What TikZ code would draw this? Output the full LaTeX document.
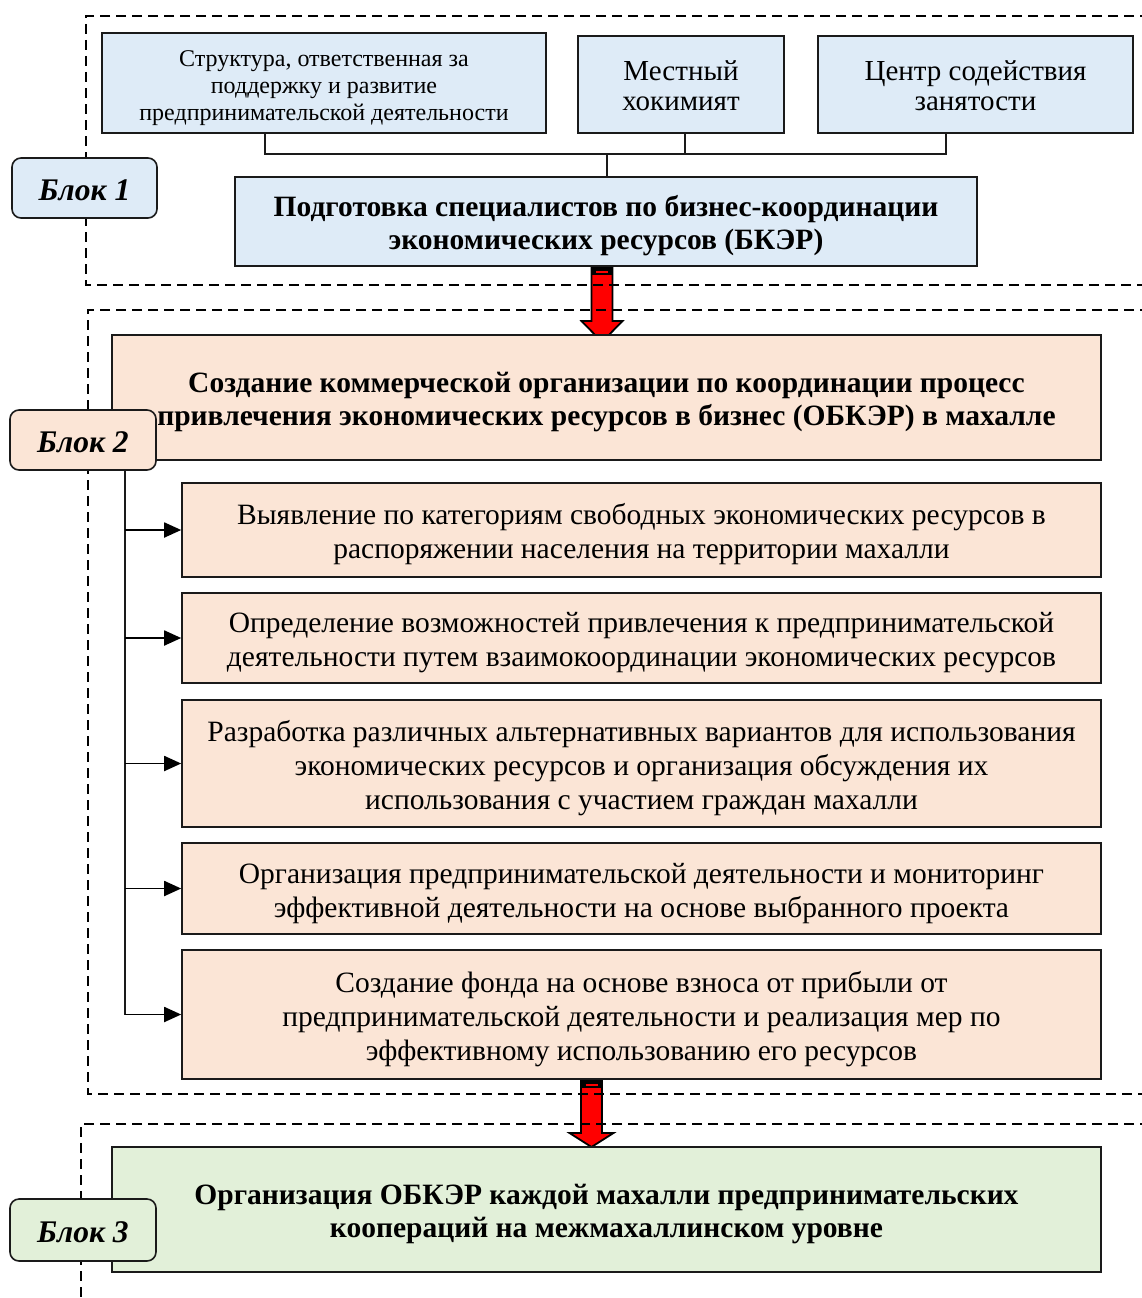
\documentclass[tikz,border=0pt]{standalone}
\usepackage{fontspec}
\setmainfont{Liberation Serif}
\usetikzlibrary{arrows.meta,calc}
\definecolor{bluef}{HTML}{DEEBF7}
\definecolor{peachf}{HTML}{FBE5D6}
\definecolor{greenf}{HTML}{E2F0D9}
\definecolor{edgec}{HTML}{1A1A1A}
\newcommand\boxtext[1]{\raisebox{0pt}[\dimexpr\height+10pt\relax]{\begin{tabular}{@{}c@{}}#1\end{tabular}}}
\newcommand\lbltext[1]{\raisebox{0pt}[\dimexpr\height+4pt\relax]{#1}}
\begin{document}
\begin{tikzpicture}[x=1pt,y=-1pt,
  box/.style={draw=edgec, line width=1.6pt, inner sep=0pt, anchor=center},
  bluebox/.style={box, fill=bluef},
  peachbox/.style={box, fill=peachf},
  greenbox/.style={box, fill=greenf},
  lbl/.style={box, rounded corners=9pt, font=\fontsize{31.5}{34}\selectfont\bfseries\itshape},
  smalltxt/.style={font=\fontsize{24}{27}\selectfont},
  midtxt/.style={font=\fontsize{29}{29.5}\selectfont},
  rowtxt/.style={font=\fontsize{29.5}{34}\selectfont},
  boldtxt/.style={font=\fontsize{29.5}{33.5}\selectfont\bfseries},
  dashline/.style={draw=black, line width=2pt, dash pattern=on 10pt off 6pt},
  conn/.style={draw=edgec, line width=1.4pt},
  arr/.style={draw=black, line width=1.8pt, -{Triangle[length=17pt,width=15pt]}},
  redarr/.style={fill=red, draw=black, line width=1.8pt, line join=miter}
]
\useasboundingbox (0,0) rectangle (1141,1298);

% red arrows (drawn first, dashed lines pass over them)
\coordinate (r1t) at (602,266);
\coordinate (r1b) at (602,342);
\filldraw[redarr] ($(r1t)+(-10.5,0)$) -- ($(r1b)+(-10.5,-21)$) -- ($(r1b)+(-20.5,-21)$) -- (r1b)
  -- ($(r1b)+(20.5,-21)$) -- ($(r1b)+(10.5,-21)$) -- ($(r1t)+(10.5,0)$) -- cycle;
\fill[black] ($(r1t)+(-10.5,0)$) rectangle ($(r1t)+(10.5,9)$);
\draw[red, line width=1.5pt] ($(r1t)+(-6,6)$) -- ($(r1t)+(6,6)$);

\coordinate (r2t) at (591.5,1079);
\coordinate (r2b) at (591.5,1147);
\filldraw[redarr] ($(r2t)+(-10.5,0)$) -- ($(r2b)+(-10.5,-14)$) -- ($(r2b)+(-22,-14)$) -- (r2b)
  -- ($(r2b)+(22,-14)$) -- ($(r2b)+(10.5,-14)$) -- ($(r2t)+(10.5,0)$) -- cycle;
\fill[black] ($(r2t)+(-10.5,0)$) rectangle ($(r2t)+(10.5,9)$);
\draw[red, line width=1.5pt] ($(r2t)+(-6,6)$) -- ($(r2t)+(6,6)$);

% dashed block frames
\draw[dashline] (1150,16) -- (86,16) -- (86,285) -- (1150,285);
\draw[dashline] (1150,310) -- (88,310) -- (88,1094) -- (1150,1094);
\draw[dashline] (1150,1124) -- (81,1124) -- (81,1310);

% Block 1
\node[bluebox, smalltxt, minimum width=444pt, minimum height=100pt] (A) at (324,83)
  {\boxtext{Структура, ответственная за\\поддержку и развитие\\предпринимательской деятельности}};
\node[bluebox, midtxt, minimum width=206pt, minimum height=97pt] (B) at (681,84.5)
  {\boxtext{Местный\\хокимият}};
\node[bluebox, midtxt, minimum width=315pt, minimum height=97pt] (C) at (975.5,84.5)
  {\boxtext{Центр содействия\\занятости}};
\node[bluebox, boldtxt, minimum width=742pt, minimum height=89pt] (bker) at (606,221.5)
  {\boxtext{Подготовка специалистов по бизнес-координации\\экономических ресурсов (БКЭР)}};
\node[lbl, fill=bluef, minimum width=145pt, minimum height=60pt] (L1) at (84.5,188) {\lbltext{Блок 1}};

\coordinate (busL) at (265,154);
\coordinate (busR) at (946,154);
\coordinate (busB) at (685,154);
\coordinate (drop) at (607,154);
\draw[conn] (busL |- A.south) -- (busL) -- (busR) -- (busR |- C.south);
\draw[conn] (busB |- B.south) -- (busB);
\draw[conn] (drop) -- (drop |- bker.north);

% Block 2
\node[peachbox, boldtxt, minimum width=989pt, minimum height=125pt] (m2) at (606.5,397.5)
  {\boxtext{Создание коммерческой организации по координации процесс\\привлечения экономических ресурсов в бизнес (ОБКЭР) в махалле}};
\node[lbl, fill=peachf, minimum width=146pt, minimum height=60pt] (L2) at (83,440) {\lbltext{Блок 2}};

\node[peachbox, rowtxt, minimum width=919pt, minimum height=94pt] (s1) at (641.5,530)
  {\boxtext{Выявление по категориям свободных экономических ресурсов в\\распоряжении населения на территории махалли}};
\node[peachbox, rowtxt, minimum width=919pt, minimum height=90pt] (s2) at (641.5,638)
  {\boxtext{Определение возможностей привлечения к предпринимательской\\деятельности путем взаимокоординации экономических ресурсов}};
\node[peachbox, rowtxt, minimum width=919pt, minimum height=127pt] (s3) at (641.5,763.5)
  {\boxtext{Разработка различных альтернативных вариантов для использования\\экономических ресурсов и организация обсуждения их\\использования с участием граждан махалли}};
\node[peachbox, rowtxt, minimum width=919pt, minimum height=91pt] (s4) at (641.5,888.5)
  {\boxtext{Организация предпринимательской деятельности и мониторинг\\эффективной деятельности на основе выбранного проекта}};
\node[peachbox, rowtxt, minimum width=919pt, minimum height=129pt] (s5) at (641.5,1014.5)
  {\boxtext{Создание фонда на основе взноса от прибыли от\\предпринимательской деятельности и реализация мер по\\эффективному использованию его ресурсов}};

\coordinate (spine) at (125,470);
\draw[conn] (spine |- L2.south) -- (spine |- s5.west);
\foreach \s in {s1,s2,s3,s4,s5}
  \draw[arr] (spine |- \s.west) -- (\s.west);

% Block 3
\node[greenbox, boldtxt, minimum width=989pt, minimum height=125pt] (m3) at (606.5,1209.5)
  {\boxtext{Организация ОБКЭР каждой махалли предпринимательских\\коопераций на межмахаллинском уровне}};
\node[lbl, fill=greenf, minimum width=146pt, minimum height=62pt] (L3) at (83,1230) {\lbltext{Блок 3}};
\end{tikzpicture}
\end{document}
